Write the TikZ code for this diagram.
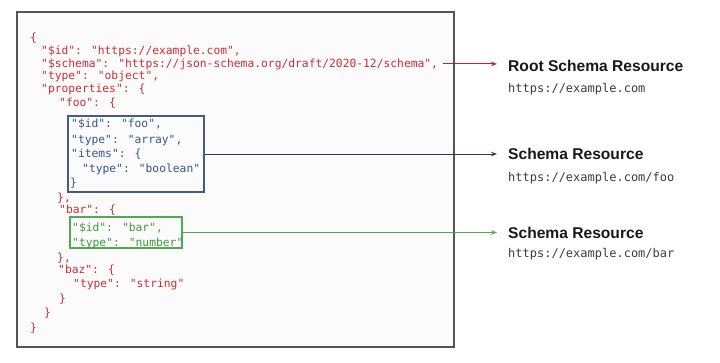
\documentclass[tikz,border=0pt]{standalone}
\usepackage{fontspec}
\setmainfont{Liberation Sans}
\newfontfamily\codefont{DejaVu Sans Mono}
\usetikzlibrary{arrows.meta}
\definecolor{cred}{RGB}{205,45,55}
\definecolor{ared}{RGB}{200,30,40}
\definecolor{cblue}{RGB}{55,85,140}
\definecolor{bblue}{RGB}{70,90,135}
\definecolor{ablue}{RGB}{40,55,100}
\definecolor{cgreen}{RGB}{60,155,60}
\definecolor{bgreen}{RGB}{80,170,80}
\definecolor{frameg}{RGB}{85,85,85}
\definecolor{paper}{RGB}{251,251,251}
\definecolor{urlg}{RGB}{60,60,60}
\tikzset{
  code/.style={anchor=base west, inner sep=0pt, font=\codefont\fontsize{11.3bp}{13bp}\selectfont},
  rc/.style={code, text=cred},
  bc/.style={code, text=cblue},
  gc/.style={code, text=cgreen},
  title/.style={anchor=base west, inner sep=0pt, font=\bfseries\fontsize{15.6bp}{18bp}\selectfont, text=black!90},
  url/.style={anchor=base west, inner sep=0pt, font=\codefont\fontsize{12bp}{14bp}\selectfont, text=urlg},
  arr/.style={-{Stealth[length=6bp,width=4.5bp]}, line width=1bp, shorten >=11bp},
}
\begin{document}
\begin{tikzpicture}[x=1bp,y=-1bp]
\useasboundingbox[fill=white] (0,0) rectangle (720,362);
\node[draw=frameg, fill=paper, line width=1.5bp, minimum width=437bp, minimum height=335bp, inner sep=0pt] (frame) at (235.5,179.5) {};
\node[draw=bblue, line width=1.3bp, minimum width=136bp, minimum height=76bp, inner sep=0pt] (bluebox) at (136,154) {};
\node[draw=bgreen, line width=1.3bp, minimum width=112bp, minimum height=31bp, inner sep=0pt] (greenbox) at (126,232.5) {};
% code lines
\node[rc] (l1) at (30,41) {\{};
\node[rc] (l2) at (41,54) {"\$id": "https://example.com",};
\node[rc] (l3) at (41,67) {"\$schema": "https://json-schema.org/draft/2020-12/schema",};
\node[rc] (l4) at (41,79.5) {"type": "object",};
\node[rc] (l5) at (41,92.5) {"properties": \{};
\node[rc] (l6) at (59,106) {"foo": \{};
\node[bc] (l7) at (71,127) {"\$id": "foo",};
\node[bc] (l8) at (71,143) {"type": "array",};
\node[bc] (l9) at (71,157) {"items": \{};
\node[bc] (l10) at (82,172) {"type": "boolean"};
\node[bc] (l11) at (70,186) {\}};
\node[rc] (l12) at (57,201) {\},};
\node[rc] (l13) at (59,213) {"bar": \{};
\node[gc] (l14) at (72,231) {"\$id": "bar",};
\node[gc] (l15) at (72,246) {"type": "number"};
\node[rc] (l16) at (57,261) {\},};
\node[rc] (l17) at (58,273) {"baz": \{};
\node[rc] (l18) at (73,287) {"type": "string"};
\node[rc] (l19) at (59,302) {\}};
\node[rc] (l20) at (44,316) {\}};
\node[rc] (l21) at (30,331) {\}};
% labels
\node[title] (root) at (508,71) {Root Schema Resource};
\node[url] (rooturl) at (508,92) {https://example.com};
\node[title] (foo) at (508,159) {Schema Resource};
\node[url] (foourl) at (508,181) {https://example.com/foo};
\node[title] (bar) at (508,238) {Schema Resource};
\node[url] (barurl) at (508,257) {https://example.com/bar};
% connectors
\draw[arr, ared, shorten <=5bp] (l3.east) -- (l3.east -| root.west);
\draw[arr, ablue] (bluebox.east) -- (bluebox.east -| foo.west);
\draw[arr, bgreen] (greenbox.east) -- (greenbox.east -| bar.west);
\end{tikzpicture}
\end{document}
